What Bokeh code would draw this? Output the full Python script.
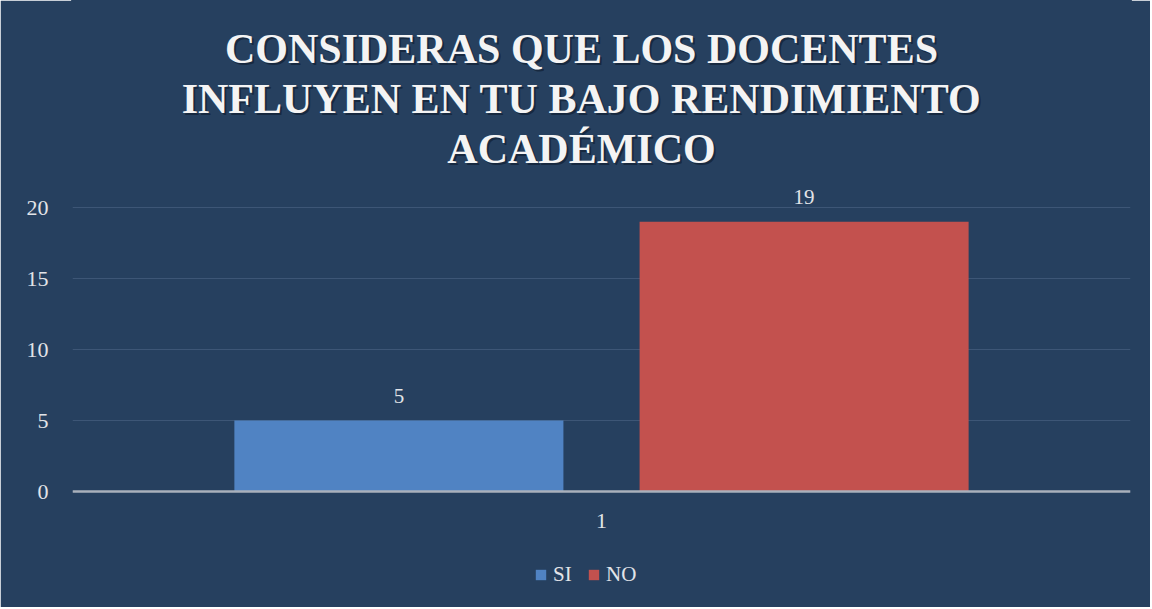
from bokeh.plotting import figure
from bokeh.models import (ColumnDataSource, FactorRange, Range1d, FixedTicker, Legend,
                          LegendItem, Label)
from bokeh.transform import dodge
from bokeh.core.properties import value
from bokeh.embed import file_html
from bokeh.resources import INLINE

# ---------------- data ----------------
categories = ["1"]
series_names = ["SI", "NO"]
si_values = [5]
no_values = [19]
y_ticks = [0, 5, 10, 15, 20]
title_lines = ["CONSIDERAS QUE LOS DOCENTES",
               "INFLUYEN EN TU BAJO RENDIMIENTO",
               "ACADÉMICO"]

# ---------------- style ----------------
BG = "#26405f"
TXT = "#e2e4e8"
FONT = "Liberation Serif"
SI_COLOR = "#5083c3"
NO_COLOR = "#c3514e"

W, H = 1150, 607
BASE_PX = 491               # pixel row of the zero line
PX_PER_UNIT = 14.2          # vertical scale of the value axis
y_start = -(H - BASE_PX) / PX_PER_UNIT
y_end = BASE_PX / PX_PER_UNIT

p = figure(width=W, height=H, x_range=FactorRange(factors=categories, range_padding=0),
           y_range=Range1d(y_start, y_end), output_backend="svg", toolbar_location=None,
           min_border_left=72, min_border_right=20, min_border_top=0, min_border_bottom=0)
p.background_fill_color = BG
p.border_fill_color = BG
p.outline_line_color = BG
p.outline_line_width = 3

src_si = ColumnDataSource(dict(cat=categories, val=si_values, lbl=[str(v) for v in si_values]))
src_no = ColumnDataSource(dict(cat=categories, val=no_values, lbl=[str(v) for v in no_values]))

BAR_W = 0.311
OFF = 0.1915
r_si = p.vbar(x=dodge("cat", -OFF, range=p.x_range), top="val", bottom=0, width=BAR_W,
              source=src_si, fill_color=SI_COLOR, line_color=None)
r_no = p.vbar(x=dodge("cat", OFF, range=p.x_range), top="val", bottom=0, width=BAR_W,
              source=src_no, fill_color=NO_COLOR, line_color=None)

for src, off in ((src_si, -OFF), (src_no, OFF)):
    p.text(x=dodge("cat", off, range=p.x_range), y="val", text="lbl", source=src,
           y_offset=-25, text_align="center", text_baseline="alphabetic",
           text_font=value(FONT), text_font_size="21px", text_color=TXT)

# axes
p.yaxis.ticker = FixedTicker(ticks=y_ticks)
p.yaxis.axis_line_color = None
p.yaxis.major_tick_line_color = None
p.yaxis.minor_tick_line_color = None
p.yaxis.major_label_standoff = 18
p.yaxis.major_label_text_font = FONT
p.yaxis.major_label_text_font_size = "22px"
p.yaxis.major_label_text_color = TXT

p.xaxis.fixed_location = 0
p.xaxis.axis_line_color = "#a9b0bb"
p.xaxis.axis_line_width = 2.5
p.xaxis.major_tick_line_color = None
p.xaxis.minor_tick_line_color = None
p.xaxis.major_label_standoff = 16
p.xaxis.major_label_text_font = FONT
p.xaxis.major_label_text_font_size = "22px"
p.xaxis.major_label_text_color = TXT

p.xgrid.grid_line_color = None
p.ygrid.ticker = FixedTicker(ticks=y_ticks)
p.ygrid.grid_line_color = "#3d5676"
p.ygrid.grid_line_width = 1

# title (screen units, relative to plot area bottom-left)
TITLE_CX = 509
for i, line in enumerate(title_lines):
    ys = (H - 48) - 50 * i
    p.add_layout(Label(x=TITLE_CX + 2, y=ys - 2, x_units="screen", y_units="screen", text=line,
                       text_align="center", text_baseline="alphabetic", text_font=FONT,
                       text_font_style="bold", text_font_size="42px", text_color="#0b1626",
                       text_alpha=0.55))
    p.add_layout(Label(x=TITLE_CX, y=ys, x_units="screen", y_units="screen", text=line,
                       text_align="center", text_baseline="alphabetic", text_font=FONT,
                       text_font_style="bold", text_font_size="42px", text_color="#f4f4f4"))

legend = Legend(items=[LegendItem(label=series_names[0], renderers=[r_si]),
                       LegendItem(label=series_names[1], renderers=[r_no])],
                orientation="horizontal", location=(462, 20), glyph_width=13, glyph_height=13,
                label_standoff=6, spacing=14, padding=0, margin=0,
                background_fill_alpha=0, border_line_color=None,
                label_text_font=FONT, label_text_font_size="21px", label_text_color=TXT)
p.add_layout(legend)

open("out.html", "w").write(file_html(p, INLINE))
